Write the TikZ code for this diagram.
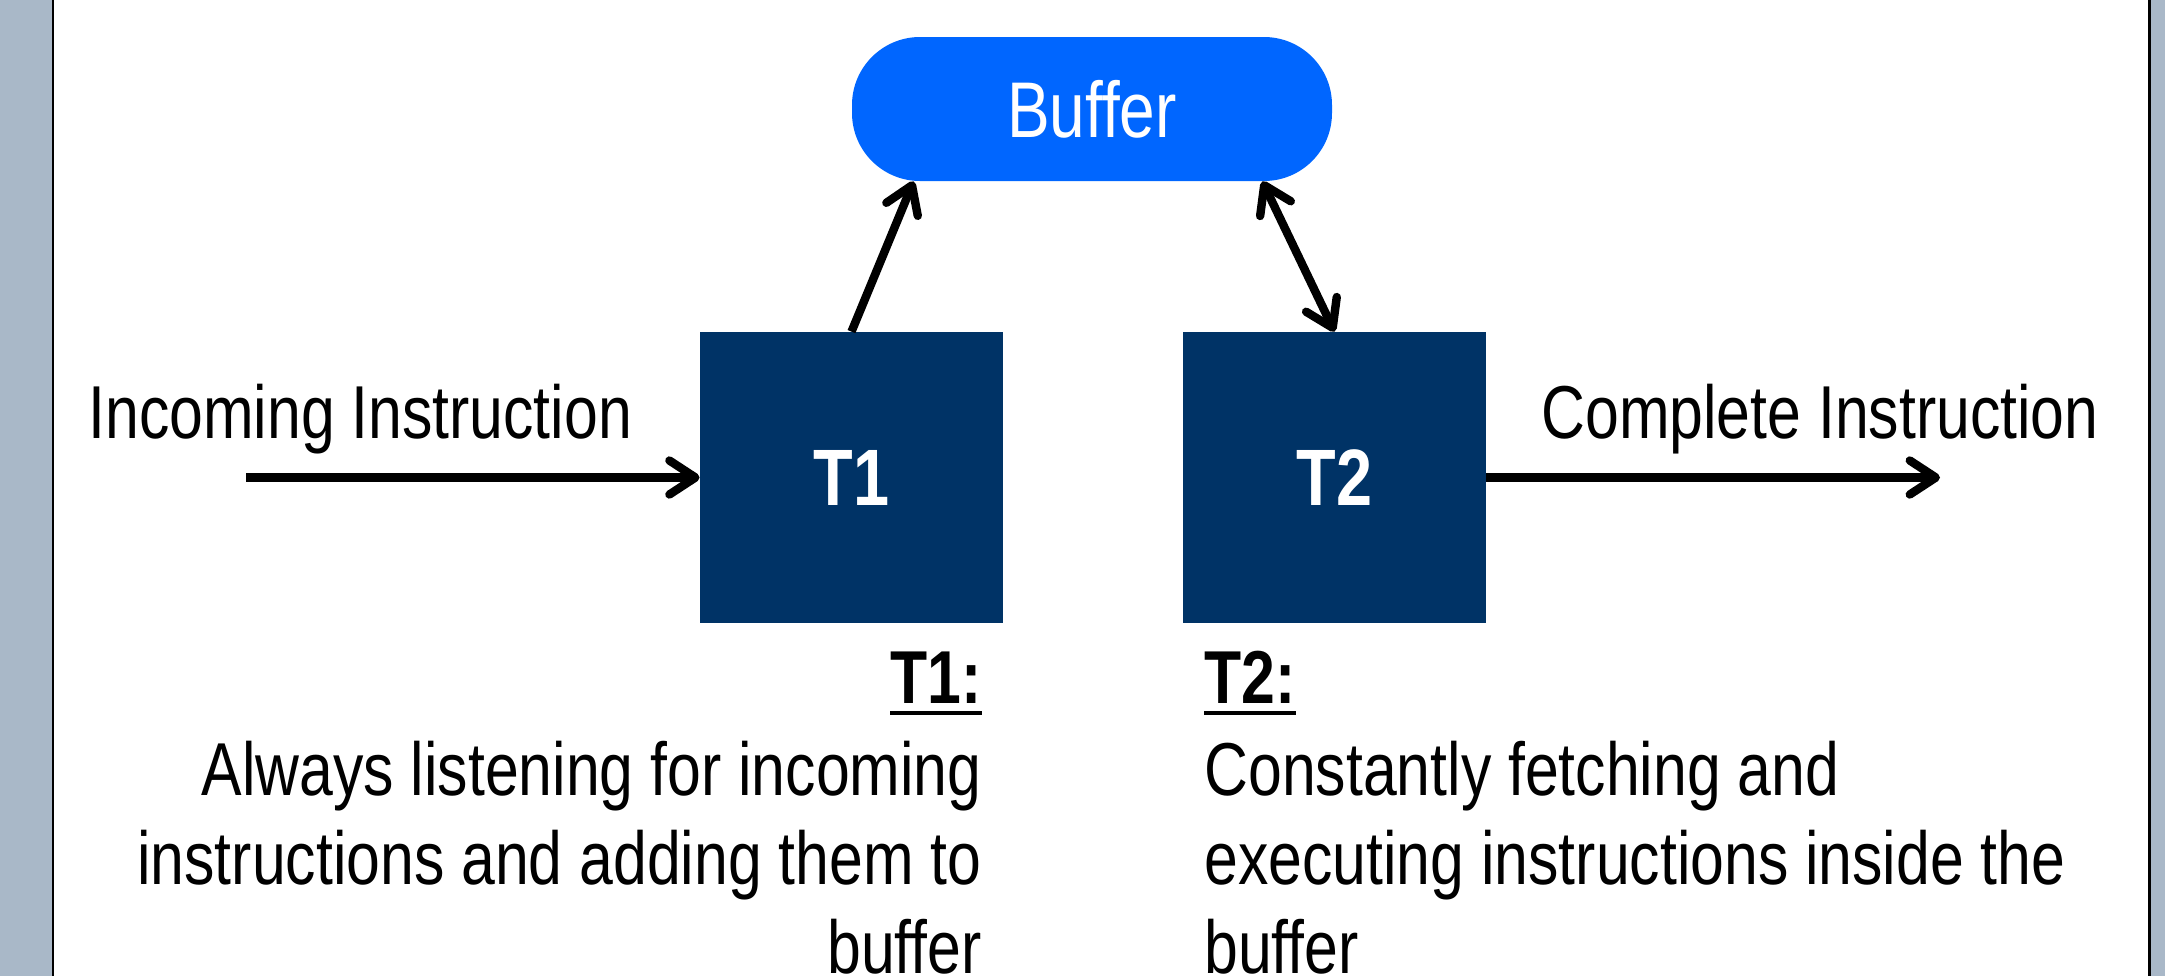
\documentclass[tikz,border=0pt]{standalone}
\usepackage{fontspec}
\setmainfont{Liberation Sans}[FakeStretch=0.81]
\usetikzlibrary{arrows.meta}
\definecolor{bufblue}{HTML}{0066FF}
\definecolor{navy}{HTML}{003366}
\definecolor{sidegray}{HTML}{A9B8C8}
\tikzset{
  lbl/.style={font=\fontsize{37.5pt}{44.5pt}\selectfont, inner sep=0pt, text=black},
  head/.style={font=\fontsize{37.5pt}{44.5pt}\selectfont\bfseries, inner sep=0pt, text=black},
  tbox/.style={fill=navy, minimum width=151.5pt, minimum height=145.5pt, text=white,
    font=\fontsize{40pt}{48pt}\selectfont\bfseries, inner sep=0pt},
  bufbox/.style={fill=bufblue, rounded corners=34pt, minimum width=240pt, minimum height=72pt,
    text=white, font=\fontsize{39.5pt}{46pt}\selectfont, inner sep=0pt},
  tip/.tip={Straight Barb[length=13pt,width=17pt,round]},
  arr/.style={line width=4.2pt, -tip},
  dblarr/.style={line width=4.2pt, tip-tip},
  uline/.style={line width=1.6pt},
  side/.style={fill=sidegray},
  edge/.style={line width=1.25pt, draw=black}
}
\begin{document}
\begin{tikzpicture}[x=0.5pt, y=-0.5pt]
  \useasboundingbox (0,0) rectangle (2165,976);
  % side panels
  \fill[side] (0,0) rectangle (53,976);
  \draw[edge] (53,0) -- (53,976);
  \fill[side] (2149.5,0) rectangle (2165,976);
  \draw[edge] (2149.5,0) -- (2149.5,976);
  % nodes
  \node[bufbox] (buf) at (1092,109) {Buffer};
  \node[tbox] (T1) at (851.5,477.5) {T1};
  \node[tbox] (T2) at (1334.5,477.5) {T2};
  \coordinate (in) at (246,477.5);
  \coordinate (out) at (1940,477.5);
  % connectors
  \draw[arr] (in) -- (T1.west);
  \draw[arr] (T2.east) -- (out);
  \draw[arr] (T1.north) -- ([xshift=31pt]buf.south west);
  \draw[dblarr] ([xshift=-35pt]buf.south east) -- (T2.north);
  % labels
  \node[lbl, anchor=base west] (inlbl) at (88,438) {Incoming Instruction};
  \node[lbl, anchor=base west] (outlbl) at (1541,438) {Complete Instruction};
  \node[head, anchor=base east] (h1) at (982,703) {T1:};
  \node[head, anchor=base west] (h2) at (1204,703) {T2:};
  \draw[uline] ([yshift=-5pt]h1.base west) -- ([yshift=-5pt]h1.base east);
  \draw[uline] ([yshift=-5pt]h2.base west) -- ([yshift=-5pt]h2.base east);
  \node[lbl, align=right, anchor=base east] (d1) at (982,973)
    {Always listening for incoming\\instructions and adding them to\\buffer};
  \node[lbl, align=left, anchor=base west] (d2) at (1204,973)
    {Constantly fetching and\\executing instructions inside the\\buffer};
\end{tikzpicture}
\end{document}
